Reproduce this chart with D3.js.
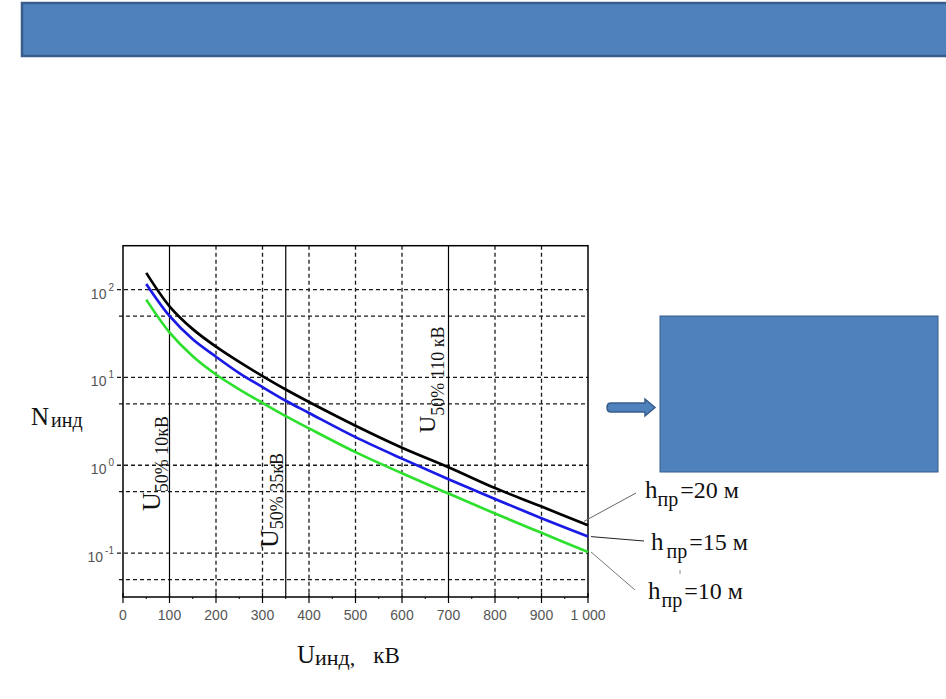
<!DOCTYPE html>
<html>
<head>
<meta charset="utf-8">
<script src="https://cdn.jsdelivr.net/npm/d3@7"></script>
<style>
    body { margin: 0; background: #fff; }
    svg { display: block; }
    .serif { font-family: "Liberation Serif", "Times New Roman", serif; fill: #111; }
    .tick-label { font-family: "Liberation Sans", Arial, sans-serif; font-size: 14px; fill: #555; }
</style>
</head>
<body>
<svg id="chart" width="946" height="699"></svg>
<script>
// Data: induced voltage (kV) vs. number of induced overvoltages
const voltages = [50, 100, 150, 200, 250, 300, 350, 400, 500, 600, 700, 800, 900, 1000];
const n20 = [155, 64.6, 35.5, 22.4, 15.0, 10.35, 7.28, 5.25, 2.82, 1.585, 0.95, 0.55, 0.339, 0.207];
const n15 = [116, 50.1, 27.2, 17.2, 11.2, 7.76, 5.43, 3.94, 2.09, 1.19, 0.695, 0.412, 0.25, 0.154];
const n10 = [76.9, 32.6, 17.4, 10.8, 7.33, 5.13, 3.63, 2.63, 1.41, 0.81, 0.476, 0.282, 0.17, 0.103];

const seriesNames = ["20", "15", "10"];
const seriesColors = ["#000000", "#1a1ae6", "#2ee02e"];

const xTicks = [0, 100, 200, 300, 400, 500, 600, 700, 800, 900, 1000];
const xMinorTicks = [50, 150, 250, 350, 450, 550, 650, 750, 850, 950];
const xGrid = [200, 300, 400, 500, 600, 800, 900];
const markerVoltages = [100, 350, 700];       // U50% for 10, 35, 110 kV
const markerNames = ["10кВ", "35кВ", "110 кВ"];
const yTicks = [0.1, 1, 10, 100];
const yExponents = ["-1", "0", "1", "2"];
const yGrid = [0.05, 0.1, 0.5, 1, 5, 10, 50, 100];

const svg = d3.select("#chart");

// Top banner
svg.append("rect")
    .attr("x", 22).attr("y", 3)
    .attr("width", 940).attr("height", 53)
    .attr("fill", "#4f81bd")
    .attr("stroke", "#385d8a")
    .attr("stroke-width", 2.5);

// Plot area
const plotLeft = 123, plotRight = 588, plotTop = 245.7, plotBottom = 597;
const x = d3.scaleLinear().domain([0, 1000]).range([plotLeft, plotRight]);
const y = d3.scaleLog().domain([Math.pow(10, -1.5), Math.pow(10, 2.5)]).range([plotBottom, plotTop]);

const plot = svg.append("g");

// Dashed grid
plot.selectAll(".vgrid")
    .data(xGrid)
    .enter().append("line")
    .attr("x1", d => x(d)).attr("x2", d => x(d))
    .attr("y1", plotTop).attr("y2", plotBottom)
    .attr("stroke", "#1a1a1a").attr("stroke-width", 1.3)
    .attr("stroke-dasharray", "4,3");

plot.selectAll(".hgrid")
    .data(yGrid)
    .enter().append("line")
    .attr("x1", d => plotLeft - (yTicks.includes(d) ? 6 : 4)).attr("x2", plotRight)
    .attr("y1", d => y(d)).attr("y2", d => y(d))
    .attr("stroke", "#1a1a1a").attr("stroke-width", 1.3)
    .attr("stroke-dasharray", "4,3");

// Solid U50% marker lines
plot.selectAll(".marker")
    .data(markerVoltages)
    .enter().append("line")
    .attr("x1", d => x(d)).attr("x2", d => x(d))
    .attr("y1", plotTop).attr("y2", plotBottom)
    .attr("stroke", "#000").attr("stroke-width", 1.2);

// Frame
plot.append("rect")
    .attr("x", plotLeft).attr("y", plotTop)
    .attr("width", plotRight - plotLeft).attr("height", plotBottom - plotTop)
    .attr("fill", "none").attr("stroke", "#000").attr("stroke-width", 1.5);

// X axis ticks and labels
plot.selectAll(".xtick")
    .data(xTicks)
    .enter().append("line")
    .attr("x1", d => x(d)).attr("x2", d => x(d))
    .attr("y1", plotBottom - 4).attr("y2", plotBottom + 6)
    .attr("stroke", "#000").attr("stroke-width", 1.2);

plot.selectAll(".xminor")
    .data(xMinorTicks)
    .enter().append("line")
    .attr("x1", d => x(d)).attr("x2", d => x(d))
    .attr("y1", plotBottom).attr("y2", plotBottom + 2)
    .attr("stroke", "#000").attr("stroke-width", 1);

const fmt = d3.formatLocale({ decimal: ",", thousands: " ", grouping: [3], currency: ["", ""] }).format(",");
plot.selectAll(".xlabel")
    .data(xTicks)
    .enter().append("text")
    .attr("class", "tick-label")
    .attr("x", d => x(d)).attr("y", plotBottom + 23)
    .attr("text-anchor", "middle")
    .text(d => fmt(d));

// Y axis labels 10^n
const ylab = plot.selectAll(".ylabel")
    .data(yTicks)
    .enter().append("text")
    .attr("class", "tick-label")
    .attr("x", 114).attr("y", d => y(d) + 9)
    .attr("text-anchor", "end");
ylab.append("tspan").text("10");
ylab.append("tspan")
    .attr("dx", 2).attr("dy", -8)
    .attr("font-size", 10)
    .text((d, i) => yExponents[i]);

// Curves
const series = [n20, n15, n10];
const line = d3.line()
    .x((d, i) => x(voltages[i]))
    .y(d => y(d))
    .curve(d3.curveCatmullRom.alpha(0.5));

plot.selectAll(".curve")
    .data(series)
    .enter().append("path")
    .attr("d", d => line(d))
    .attr("fill", "none")
    .attr("stroke", (d, i) => seriesColors[i])
    .attr("stroke-width", 2.7);

// Rotated U50% labels
const markerLabel = [
    { base: 160, sub: 8, y: 511, uSize: 26, subSize: 18 },
    { base: 278, sub: 5, y: 548, uSize: 26, subSize: 18 },
    { base: 435, sub: 9, y: 433, uSize: 24, subSize: 18 }
];
markerLabel.forEach((m, i) => {
    const t = plot.append("text")
        .attr("class", "serif")
        .attr("transform", `translate(${m.base},${m.y}) rotate(-90)`);
    t.append("tspan").attr("font-size", m.uSize).text("U");
    t.append("tspan").attr("font-size", m.subSize).attr("dy", m.sub)
        .text("50% " + markerNames[i]);
});

// Axis titles
const yTitle = svg.append("text").attr("class", "serif")
    .attr("x", 31).attr("y", 425);
yTitle.append("tspan").attr("font-size", 25).text("N");
yTitle.append("tspan").attr("font-size", 20).attr("dx", 2).attr("dy", 2).text("инд");

const xTitle = svg.append("text").attr("class", "serif")
    .attr("x", 297).attr("y", 663);
xTitle.append("tspan").attr("font-size", 25).text("U");
xTitle.append("tspan").attr("font-size", 22).attr("dy", 2).text("инд,");
xTitle.append("tspan").attr("font-size", 23).attr("dx", 18).attr("dy", -2).text("кВ");

// Series labels with leader lines
const labelPos = [
    { lx: 645, ly: 498, gap: 0, lineEnd: [636, 493], color: "#666" },
    { lx: 651, ly: 550, gap: 3, lineEnd: [644, 541], color: "#222" },
    { lx: 648, ly: 599, gap: 1, lineEnd: [635, 590], color: "#777" }
];
series.forEach((s, i) => {
    const p = labelPos[i];
    const last = s[s.length - 1];
    svg.append("line")
        .attr("x1", x(1000) + (i === 0 ? -4 : 3)).attr("y1", y(last) + (i === 0 ? -4 : 0))
        .attr("x2", p.lineEnd[0]).attr("y2", p.lineEnd[1])
        .attr("stroke", p.color).attr("stroke-width", 1);

    const t = svg.append("text").attr("class", "serif")
        .attr("x", p.lx).attr("y", p.ly);
    t.append("tspan").attr("font-size", 25).text("h");
    t.append("tspan").attr("font-size", 20).attr("dx", p.gap).attr("dy", 8).text("пр");
    t.append("tspan").attr("font-size", 24).attr("dx", 2).attr("dy", -8).text("=" + seriesNames[i] + " м");
});

// Tiny stray mark
svg.append("line")
    .attr("x1", 680).attr("y1", 570).attr("x2", 680).attr("y2", 574)
    .attr("stroke", "#888").attr("stroke-width", 1);

// Arrow and right box
svg.append("path")
    .attr("d", "M611,403 L645,403 L645,399 L655,407.5 L645,416 L645,412 L611,412 Q607,412 607,407.5 Q607,403 611,403 Z")
    .attr("fill", "#4f81bd").attr("stroke", "#385d8a").attr("stroke-width", 1.5);

svg.append("rect")
    .attr("x", 660).attr("y", 316)
    .attr("width", 278).attr("height", 156)
    .attr("fill", "#4f81bd").attr("stroke", "#385d8a").attr("stroke-width", 1);
</script>
</body>
</html>
